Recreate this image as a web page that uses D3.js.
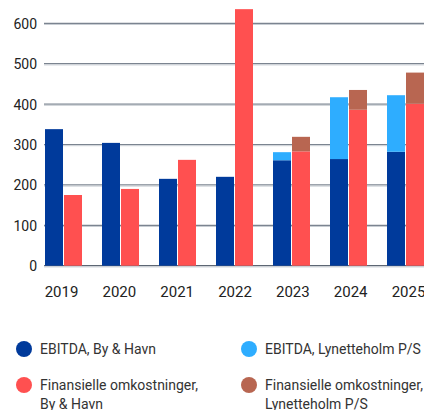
<!DOCTYPE html>
<meta charset="utf-8" />
<style>
  body { margin: 0; background: #fff; overflow: hidden; }
  svg { font-family: Roboto, sans-serif; }
</style>
<body>
<svg id="chart"></svg>
<script src="https://d3js.org/d3.v7.min.js"></script>
<script>
  // data (mio. kr.)
  var years = ["2019", "2020", "2021", "2022", "2023", "2024", "2025"];
  var ebitdaByHavn = [338, 304, 215, 220, 261, 264, 282];
  var ebitdaLynetteholm = [0, 0, 0, 0, 20, 153, 140];
  var finByHavn = [175, 190, 262, 635, 283, 386, 401];
  var finLynetteholm = [0, 0, 0, 0, 36, 49, 77];
  var yTicks = [0, 100, 200, 300, 400, 500, 600];

  var colors = {
    ebitdaBH: "#003a9b",
    ebitdaLyn: "#2eadff",
    finBH: "#ff5050",
    finLyn: "#b86651"
  };

  var width = 424, height = 410;
  var svg = d3.select("#chart").attr("width", width).attr("height", height);

  var x = d3.scaleBand().domain(years).range([44, 425])
    .paddingInner(20 / 57).paddingOuter(1 / 57);
  var sub = d3.scaleBand().domain(["ebitda", "fin"]).range([0, x.bandwidth()])
    .paddingInner(1 / 19);
  // tick labels sit on a slightly wider spacing than the bars
  var xLabel = d3.scalePoint().domain(years).range([61.5, 408.5]);
  var y = d3.scaleLinear().domain([0, 600]).range([265.7, 23.3]);

  // gridlines
  var grid = svg.append("g");
  grid.selectAll("line.dark").data(yTicks).enter().append("line")
    .attr("x1", 44).attr("x2", width)
    .attr("y1", d => y(d)).attr("y2", d => y(d))
    .attr("stroke", d => d === 0 ? "#5d6673" : "#7b8490").attr("stroke-width", 1.2);
  grid.selectAll("line.light").data(yTicks).enter().append("line")
    .attr("x1", 44).attr("x2", width)
    .attr("y1", d => y(d) + 1.2).attr("y2", d => y(d) + 1.2)
    .attr("stroke", "#c8cdd3").attr("stroke-width", 1);

  // y labels
  svg.append("g").selectAll("text").data(yTicks).enter().append("text")
    .attr("x", 37).attr("y", d => y(d) + 5.5)
    .attr("text-anchor", "end")
    .attr("font-size", 14).attr("fill", "#222")
    .text(d => d);

  // stacked bars
  var rows = years.map((yr, i) => ({
    year: yr,
    ebitda: [
      { y0: 0, y1: ebitdaByHavn[i], c: colors.ebitdaBH },
      { y0: ebitdaByHavn[i], y1: ebitdaByHavn[i] + ebitdaLynetteholm[i], c: colors.ebitdaLyn }
    ],
    fin: [
      { y0: 0, y1: finByHavn[i], c: colors.finBH },
      { y0: finByHavn[i], y1: finByHavn[i] + finLynetteholm[i], c: colors.finLyn }
    ]
  }));

  var groups = svg.append("g").selectAll("g").data(rows).enter().append("g")
    .attr("transform", d => "translate(" + x(d.year) + ",0)");

  ["ebitda", "fin"].forEach(function(key) {
    groups.selectAll("rect." + key).data(d => d[key].filter(s => s.y1 > s.y0))
      .enter().append("rect")
      .attr("class", key)
      .attr("x", sub(key))
      .attr("width", sub.bandwidth())
      .attr("y", s => y(s.y1))
      .attr("height", s => y(s.y0) - y(s.y1))
      .attr("fill", s => s.c);
  });

  // x labels
  svg.append("g").selectAll("text").data(years).enter().append("text")
    .attr("x", d => xLabel(d))
    .attr("y", 297)
    .attr("text-anchor", "middle")
    .attr("font-size", 15).attr("fill", "#222")
    .text(d => d);

  // legend
  var legend = [
    { lines: ["EBITDA, By & Havn"], c: colors.ebitdaBH, x: 24, y: 349 },
    { lines: ["EBITDA, Lynetteholm P/S"], c: colors.ebitdaLyn, x: 249, y: 349 },
    { lines: ["Finansielle omkostninger,", "By & Havn"], c: colors.finBH, x: 24, y: 385 },
    { lines: ["Finansielle omkostninger,", "Lynetteholm P/S"], c: colors.finLyn, x: 249, y: 385 }
  ];
  var lg = svg.append("g").selectAll("g").data(legend).enter().append("g")
    .attr("transform", d => "translate(" + d.x + "," + d.y + ")");
  lg.append("circle").attr("r", 8).attr("fill", d => d.c);
  lg.append("text")
    .attr("x", 16).attr("y", 5)
    .attr("font-size", 14).attr("fill", "#333")
    .selectAll("tspan").data(d => d.lines).enter().append("tspan")
    .attr("x", 16).attr("dy", (d, i) => i ? 19 : 0)
    .text(d => d);
</script>
</body>
